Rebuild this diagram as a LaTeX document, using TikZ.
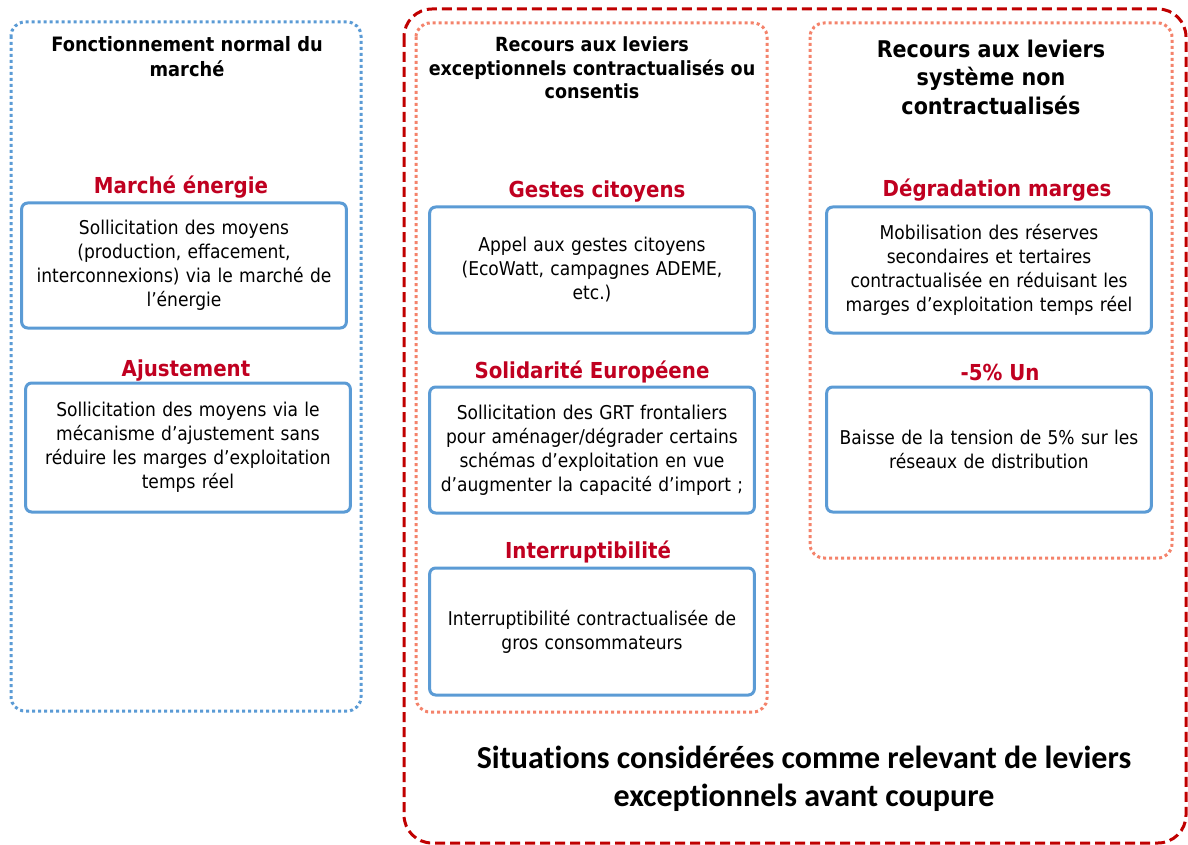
\documentclass[tikz,border=0pt]{standalone}
\usepackage{fontspec}
\setmainfont{DejaVu Sans}[FakeStretch=0.9]
\newfontfamily\bottomfont{Carlito}[Ligatures=NoCommon]
\usepackage{tikz}
\usetikzlibrary{positioning,calc}
\definecolor{boxblue}{HTML}{5B9BD5}
\definecolor{levred}{HTML}{C00020}
\definecolor{salmon}{HTML}{F4836B}
\definecolor{darkred}{HTML}{C00000}

\begin{document}
\begin{tikzpicture}[x=1pt, y=-1pt,
 lever/.style={draw=boxblue, line width=3pt, rounded corners=6pt, minimum width=322pt, text width=318pt, align=center, font=\fontsize{19}{24}\selectfont},
 levtitle/.style={text=levred, font=\fontsize{22}{26}\selectfont\bfseries},
 coltitle/.style={align=center, font=\bfseries},
 bluedots/.style={draw=boxblue, line width=3pt, dash pattern=on 3pt off 3pt, rounded corners=14pt},
 salmondots/.style={draw=salmon, line width=3pt, dash pattern=on 3pt off 3pt, rounded corners=14pt},
 reddash/.style={draw=darkred, line width=3pt, dash pattern=on 10pt off 5pt, rounded corners=28pt}]
 \useasboundingbox (0,0) rectangle (1188,845);
 % frames
 \draw[bluedots] (11,22) rectangle (361,711);
 \draw[salmondots] (416,23) rectangle (767,712);
 \draw[salmondots] (810,23) rectangle (1172,558);
 \draw[reddash] (404,9) rectangle (1186,843);
 % column titles
 \node[coltitle, font=\fontsize{19.8}{25}\selectfont\bfseries] (normal) at (187, 57) {Fonctionnement normal du\\marché};
 \node[coltitle, font=\fontsize{19.5}{23.5}\selectfont\bfseries] (consentis) at (592, 68) {Recours aux leviers\\exceptionnels contractualisés ou\\consentis};
 \node[coltitle, font=\fontsize{23}{28.5}\selectfont\bfseries] (systeme) at (991, 77) {Recours aux leviers\\système non\\contractualisés};
 % left column
 \node[levtitle] (marche) at (181, 187) {Marché énergie};
 \node[lever, minimum height=125pt] (marchebox) at (184, 265.5) {Sollicitation des moyens\\(production, effacement,\\interconnexions) via le marché de\\l’énergie};
 \node[levtitle] (ajust) at (186, 371) {Ajustement};
 \node[lever, minimum height=129pt] (ajustbox) at (188, 447.5) {Sollicitation des moyens via le\\mécanisme d’ajustement sans\\réduire les marges d’exploitation\\temps réel};
 % middle column
 \node[levtitle] (gestes) at (597, 192) {Gestes citoyens};
 \node[lever, minimum height=126pt] (gestesbox) at (592, 270) {Appel aux gestes citoyens\\(EcoWatt, campagnes ADEME,\\etc.)};
 \node[levtitle] (solid) at (592, 372) {Solidarité Européene};
 \node[lever, minimum height=126pt] (solidbox) at (592, 450) {Sollicitation des GRT frontaliers\\pour aménager/dégrader certains\\schémas d’exploitation en vue\\d’augmenter la capacité d’import ;};
 \node[levtitle] (interr) at (588, 552) {Interruptibilité};
 \node[lever, minimum height=127pt] (interrbox) at (592, 631.5) {Interruptibilité contractualisée de\\gros consommateurs};
 % right column
 \node[levtitle] (degrad) at (997, 190) {Dégradation marges};
 \node[lever, minimum height=126pt] (degradbox) at (989, 270) {Mobilisation des réserves\\secondaires et tertaires\\contractualisée en réduisant les\\marges d’exploitation temps réel};
 \node[levtitle] (un) at (1000, 372) {-5\% Un};
 \node[lever, minimum height=125pt] (unbox) at (989, 449.5) {Baisse de la tension de 5\% sur les\\réseaux de distribution};
 % bottom caption
 \node[align=center, font=\bottomfont\fontsize{32}{38}\selectfont\bfseries] (situations) at (804, 779) {Situations considérées comme relevant de leviers\\exceptionnels avant coupure};
\end{tikzpicture}
\end{document}
